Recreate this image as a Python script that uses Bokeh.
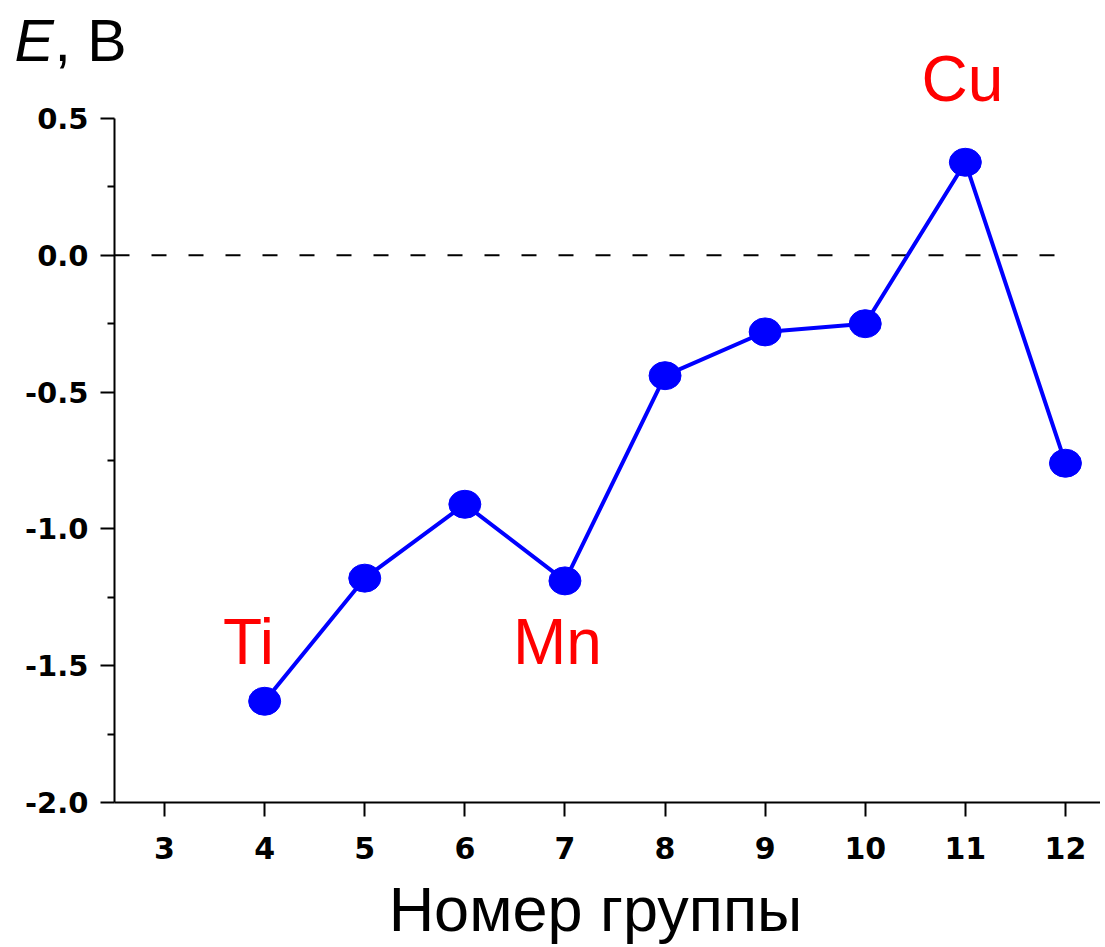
from bokeh.plotting import figure
from bokeh.models import (ColumnDataSource, FixedTicker, LabelSet, Range1d,
                          PrintfTickFormatter)
from bokeh.core.properties import value
from bokeh.embed import file_html
from bokeh.resources import INLINE

# ---- data ----
groups = [4, 5, 6, 7, 8, 9, 10, 11, 12]
potentials = [-1.63, -1.18, -0.91, -1.19, -0.44, -0.28, -0.25, 0.34, -0.76]

x_ticks = [3, 4, 5, 6, 7, 8, 9, 10, 11, 12]
y_ticks = [-2.0, -1.5, -1.0, -0.5, 0.0, 0.5]
y_minor = [-1.75, -1.25, -0.75, -0.25, 0.25]

elem_names = ["Ti", "Mn", "Cu"]
x_title = "Номер группы"
y_title_sym = "E"
y_title_unit = ", В"

# axis extents (data)
x_axis_lo = 2.5
y_axis_lo, y_axis_hi = -2.0, 0.5

# ---- layout (pixels) ----
W, H = 1100, 945
ax_left_px, ax_top_px, ax_bottom_px = 114, 118, 802
px_per_x = 100.1

px_per_y = (ax_bottom_px - ax_top_px) / (y_axis_hi - y_axis_lo)
x_lo = x_axis_lo - ax_left_px / px_per_x
x_hi = x_axis_lo + (W - ax_left_px) / px_per_x
y_hi = y_axis_hi + ax_top_px / px_per_y
y_lo = y_axis_lo - (H - ax_bottom_px) / px_per_y


def dx(px):
    return x_lo + px / px_per_x


def dy(py):
    return y_hi - py / px_per_y


p = figure(width=W, height=H, output_backend="svg", toolbar_location=None,
           x_range=Range1d(x_lo, x_hi), y_range=Range1d(y_lo, y_hi),
           min_border=0)
p.outline_line_color = None
p.xgrid.visible = False
p.ygrid.visible = False
p.background_fill_color = "white"
p.border_fill_color = "white"

tick_font = "DejaVu Sans"

# x axis
p.xaxis.fixed_location = y_axis_lo
p.xaxis.bounds = (x_axis_lo, x_hi)
p.xaxis.ticker = FixedTicker(ticks=x_ticks)
p.xaxis.axis_line_width = 2
p.xaxis.major_tick_line_width = 2
p.xaxis.major_tick_out = 14
p.xaxis.major_tick_in = 0
p.xaxis.minor_tick_line_color = None
p.xaxis.major_label_text_font = tick_font
p.xaxis.major_label_text_font_style = "bold"
p.xaxis.major_label_text_font_size = "30px"
p.xaxis.major_label_text_color = "black"
p.xaxis.major_label_standoff = 20

# y axis
p.yaxis.fixed_location = x_axis_lo
p.yaxis.bounds = (y_axis_lo, y_axis_hi)
p.yaxis.ticker = FixedTicker(ticks=y_ticks, minor_ticks=y_minor)
p.yaxis.formatter = PrintfTickFormatter(format="%.1f")
p.yaxis.axis_line_width = 2
p.yaxis.major_tick_line_width = 2
p.yaxis.minor_tick_line_width = 2
p.yaxis.major_tick_out = 14
p.yaxis.major_tick_in = 0
p.yaxis.minor_tick_out = 7
p.yaxis.minor_tick_in = 0
p.yaxis.major_label_text_font = tick_font
p.yaxis.major_label_text_font_style = "bold"
p.yaxis.major_label_text_font_size = "29px"
p.yaxis.major_label_text_color = "black"
p.yaxis.major_label_standoff = 12

# zero reference line
p.line(x=[x_axis_lo, groups[-1]], y=[0, 0], line_color="black", line_width=2,
       line_dash="15 22")

# data line and markers
src = ColumnDataSource(dict(x=groups, y=potentials))
p.line("x", "y", source=src, line_color="#0000ff", line_width=4)
p.ellipse("x", "y", source=src, width=32, height=28, width_units="screen",
          height_units="screen", fill_color="#0000ff", line_color="#0000ff")


def text_at(px, py, txt, color="black", size="64px", style="normal", align="left"):
    s = ColumnDataSource(dict(x=[dx(px)], y=[dy(py)], t=[txt]))
    p.add_layout(LabelSet(x="x", y="y", text="t", source=s, text_color=color,
                          text_font=value("Liberation Sans"), text_font_size=size,
                          text_font_style=style, text_align=align,
                          text_baseline="alphabetic"))


# element labels (positions in pixels of the picture)
lsrc = ColumnDataSource(dict(x=[dx(248), dx(557), dx(962)],
                             y=[dy(663), dy(663), dy(100)], t=elem_names))
p.add_layout(LabelSet(x="x", y="y", text="t", source=lsrc, text_color="#ff0000",
                      text_font=value("Liberation Sans"), text_font_size="64px",
                      text_align="center", text_baseline="alphabetic"))

# y axis title "E, В"
text_at(14, 60, y_title_sym, size="59px", style="italic")
text_at(54, 60, y_title_unit, size="59px")

# x axis title
text_at(595, 930, x_title, size="63px", align="center")

open("out.html", "w").write(file_html(p, INLINE))
